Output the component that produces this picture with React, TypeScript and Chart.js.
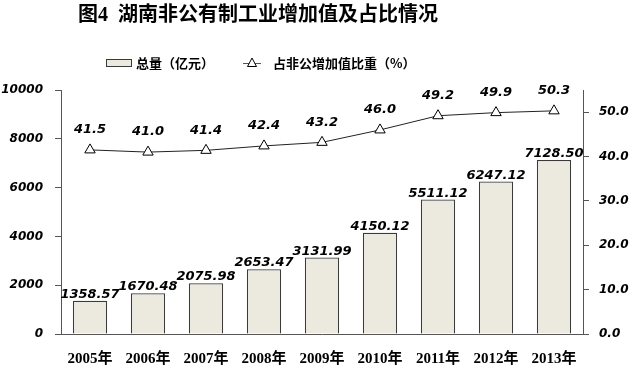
import React, { useEffect, useRef } from "react";
import { Chart, registerables } from "chart.js";

Chart.register(...registerables);

const categories = ["2005年", "2006年", "2007年", "2008年", "2009年", "2010年", "2011年", "2012年", "2013年"];
const totals = [1358.57, 1670.48, 2075.98, 2653.47, 3131.99, 4150.12, 5511.12, 6247.12, 7128.5];
const shares = [41.5, 41.0, 41.4, 42.4, 43.2, 46.0, 49.2, 49.9, 50.3];
const titleText = "图4  湖南非公有制工业增加值及占比情况";
const barLegend = "总量（亿元）";
const lineLegend = "占非公增加值比重（%）";

const BAR_FILL = "#ECEADF";
const BAR_BORDER = "#3a3a3a";
const AXIS = "#555555";
const NUM_FONT = "bold italic 13px 'DejaVu Sans', Verdana, sans-serif";
const TICK_FONT = { family: "'DejaVu Sans', Verdana, sans-serif", size: 12, weight: "bold" as const, style: "italic" as const };

const decorPlugin = {
  id: "decor",
  afterDraw(chart: any) {
    const ctx = chart.ctx;
    ctx.save();
    // title
    ctx.fillStyle = "#000";
    ctx.font = "bold 20px 'Liberation Serif', 'Noto Sans CJK SC', serif";
    ctx.textAlign = "center";
    ctx.textBaseline = "middle";
    ctx.fillText(titleText, 258, 16);
    // legend
    ctx.font = "bold 13px 'Noto Sans CJK SC', sans-serif";
    ctx.textAlign = "left";
    ctx.fillStyle = BAR_FILL;
    ctx.fillRect(106, 59, 26, 8);
    ctx.strokeStyle = BAR_BORDER;
    ctx.lineWidth = 1;
    ctx.strokeRect(106.5, 59.5, 25, 7);
    ctx.fillStyle = "#000";
    ctx.fillText(barLegend, 136, 63);
    ctx.strokeStyle = "#555";
    ctx.beginPath();
    ctx.moveTo(243, 63.5);
    ctx.lineTo(261, 63.5);
    ctx.stroke();
    ctx.fillStyle = "#fff";
    ctx.strokeStyle = "#000";
    ctx.beginPath();
    ctx.moveTo(252, 58);
    ctx.lineTo(256.5, 66.5);
    ctx.lineTo(247.5, 66.5);
    ctx.closePath();
    ctx.fill();
    ctx.stroke();
    ctx.fillStyle = "#000";
    ctx.fillText(lineLegend, 273, 63);
    ctx.restore();
  },
  afterDatasetsDraw(chart: any) {
    const ctx = chart.ctx;
    ctx.save();
    ctx.font = NUM_FONT;
    ctx.fillStyle = "#000";
    ctx.textAlign = "center";
    ctx.textBaseline = "alphabetic";
    const barMeta = chart.getDatasetMeta(0);
    barMeta.data.forEach((el: any, i: number) => {
      ctx.fillText(totals[i].toFixed(2), el.x, el.y - 3);
    });
    const lineMeta = chart.getDatasetMeta(1);
    ctx.textBaseline = "middle";
    lineMeta.data.forEach((el: any, i: number) => {
      ctx.fillText(shares[i].toFixed(1), el.x, el.y - 20);
    });
    ctx.restore();
  },
};

export default function App() {
  const ref = useRef<HTMLCanvasElement>(null);
  useEffect(() => {
    document.body.style.margin = "0";
    const chart = new Chart(ref.current!, {
      data: {
        labels: categories,
        datasets: [
          {
            type: "bar",
            label: barLegend,
            data: totals,
            backgroundColor: BAR_FILL,
            borderColor: BAR_BORDER,
            borderWidth: 1.2,
            categoryPercentage: 1,
            barPercentage: 0.59,
            yAxisID: "y",
            order: 2,
          },
          {
            type: "line",
            label: lineLegend,
            data: shares,
            borderColor: "#222",
            borderWidth: 1,
            pointStyle: "triangle",
            pointRadius: 6,
            pointBackgroundColor: "#fff",
            pointBorderColor: "#000",
            pointBorderWidth: 1,
            yAxisID: "y1",
            order: 1,
          },
        ],
      } as any,
      options: {
        responsive: false,
        animation: false,
        layout: { padding: { top: 90, left: 0, right: 0, bottom: 0 } },
        plugins: { legend: { display: false }, title: { display: false }, tooltip: { enabled: false } },
        scales: {
          x: {
            grid: { display: false },
            border: { display: true, color: AXIS, width: 1 },
            ticks: {
              color: "#000",
              font: { family: "'Liberation Serif', 'Noto Sans CJK SC', serif", size: 15, weight: "bold" },
              padding: 8,
              maxRotation: 0,
            },
            afterFit(s: any) { s.height = 34; },
          },
          y: {
            position: "left",
            min: 0,
            max: 10000,
            ticks: {
              stepSize: 2000,
              color: "#000",
              font: TICK_FONT,
              padding: 12,
              callback: (v: any) => String(v),
            },
            grid: { drawOnChartArea: false, tickLength: 6, color: AXIS },
            border: { display: true, color: AXIS, width: 1 },
            afterFit(s: any) { s.width = 61; },
          },
          y1: {
            position: "right",
            min: 0,
            max: 55,
            ticks: {
              stepSize: 10,
              color: "#000",
              font: TICK_FONT,
              padding: 10,
              callback: (v: any) => Number(v).toFixed(1),
            },
            afterBuildTicks(s: any) { s.ticks = s.ticks.filter((t: any) => t.value <= 50); },
            grid: { drawOnChartArea: false, tickLength: 6, color: AXIS },
            border: { display: true, color: AXIS, width: 1 },
            afterFit(s: any) { s.width = 55; },
          },
        },
      } as any,
      plugins: [decorPlugin],
    });
    return () => chart.destroy();
  }, []);
  return (
    <div style={{ width: 638, height: 368, background: "#fff" }}>
      <canvas ref={ref} width={638} height={368} style={{ display: "block" }} />
    </div>
  );
}
